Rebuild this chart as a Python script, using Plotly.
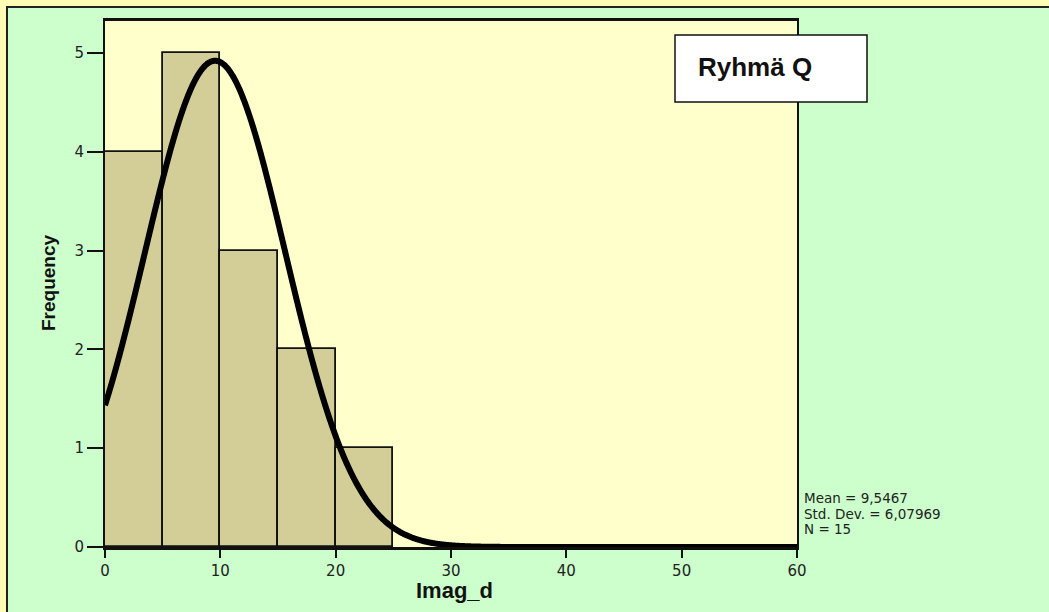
import numpy as np
import plotly.graph_objects as go

# ---- data ----
bin_starts = [0, 5, 10, 15, 20]
bin_width = 5
counts = [4, 5, 3, 2, 1]
mean = 9.5467
std_dev = 6.07969
n_obs = 15
x_ticks = [0, 10, 20, 30, 40, 50, 60]
y_ticks = [0, 1, 2, 3, 4, 5]
group_label = "Ryhmä Q"
x_title = "Imag_d"
y_title = "Frequency"
stat_lines = ["Mean = 9,5467", "Std. Dev. = 6,07969", "N = 15"]

# ---- layout geometry (pixels) ----
W, H = 1049, 612
L, R, T, B = 105, 797, 21, 547


def px_x(p):
    return (p - L) / (R - L)


def px_y(p):
    return (B - p) / (B - T)


bar_centers = [s + bin_width / 2 for s in bin_starts]

# normal curve fitted from the displayed statistics (mean, std. dev., N, bin width)
xc = np.linspace(0, 60, 1201)
yc = n_obs * bin_width * np.exp(-0.5 * ((xc - mean) / std_dev) ** 2) / (std_dev * np.sqrt(2 * np.pi))

fig = go.Figure()
fig.add_trace(go.Bar(
    x=bar_centers, y=counts, width=[bin_width] * len(counts),
    marker=dict(color="#D3CE98", line=dict(color="#111111", width=1.8)),
    hoverinfo="skip",
))
fig.add_trace(go.Scatter(
    x=xc, y=yc, mode="lines",
    line=dict(color="#000000", width=6, simplify=False),
    hoverinfo="skip", cliponaxis=True,
))

tick_font = dict(family="DejaVu Sans", size=15, color="#222222")

fig.update_xaxes(
    range=[0, 60], tickvals=x_ticks, ticktext=[str(v) for v in x_ticks],
    showgrid=False, zeroline=False,
    showline=True, linecolor="#111111", linewidth=2.5, mirror=True,
    ticks="outside", ticklen=8, tickwidth=2, tickcolor="#111111",
    tickfont=tick_font,
)
fig.update_yaxes(
    range=[0, (B - T) / 98.8], tickvals=y_ticks, ticktext=[str(v) for v in y_ticks],
    showgrid=False, zeroline=False,
    showline=True, linecolor="#111111", linewidth=2, mirror=True,
    ticks="outside", ticklen=16, tickwidth=2, tickcolor="#111111",
    tickfont=tick_font,
)

yellow = "#FFFDB5"
frame = "#222222"
shapes = [
    dict(type="rect", xref="paper", yref="paper", x0=px_x(0), x1=px_x(W), y0=px_y(6.5), y1=px_y(0),
         fillcolor=yellow, line=dict(width=0), layer="above"),
    dict(type="rect", xref="paper", yref="paper", x0=px_x(0), x1=px_x(6.5), y0=px_y(H), y1=px_y(0),
         fillcolor=yellow, line=dict(width=0), layer="above"),
    dict(type="line", xref="paper", yref="paper", x0=px_x(6), x1=px_x(W), y0=px_y(7), y1=px_y(7),
         line=dict(color=frame, width=2), layer="above"),
    dict(type="line", xref="paper", yref="paper", x0=px_x(7), x1=px_x(7), y0=px_y(H), y1=px_y(6),
         line=dict(color=frame, width=2), layer="above"),
    # group label box
    dict(type="rect", xref="paper", yref="paper", x0=px_x(675), x1=px_x(867), y0=px_y(102), y1=px_y(35),
         fillcolor="#FFFFFF", line=dict(color="#111111", width=1.5), layer="above"),
]

annotations = [
    dict(text=group_label, xref="paper", yref="paper", x=px_x(696), y=px_y(67),
         xanchor="left", yanchor="middle", showarrow=False,
         font=dict(family="Liberation Sans", size=26, color="#111111", weight="bold")),
    dict(text=x_title, xref="paper", yref="paper", x=px_x(454), y=px_y(590),
         xanchor="center", yanchor="middle", showarrow=False,
         font=dict(family="Liberation Sans", size=22, color="#111111", weight="bold")),
    dict(text=y_title, xref="paper", yref="paper", x=px_x(48), y=px_y(283),
         xanchor="center", yanchor="middle", showarrow=False, textangle=-90,
         font=dict(family="Liberation Sans", size=19, color="#111111", weight="bold")),
]

for i, s in enumerate(stat_lines):
    annotations.append(dict(
        text=s, xref="paper", yref="paper", x=px_x(802), y=px_y(498 + 15.5 * i),
        xanchor="left", yanchor="middle", showarrow=False,
        font=dict(family="DejaVu Sans", size=13.5, color="#222222"),
    ))

fig.update_layout(
    width=W, height=H,
    margin=dict(l=L, r=W - R, t=T, b=H - B, pad=0),
    paper_bgcolor="#CCFFCC", plot_bgcolor="#FFFFCC",
    showlegend=False, bargap=0,
    shapes=shapes, annotations=annotations,
)

fig.write_html("out.html")
